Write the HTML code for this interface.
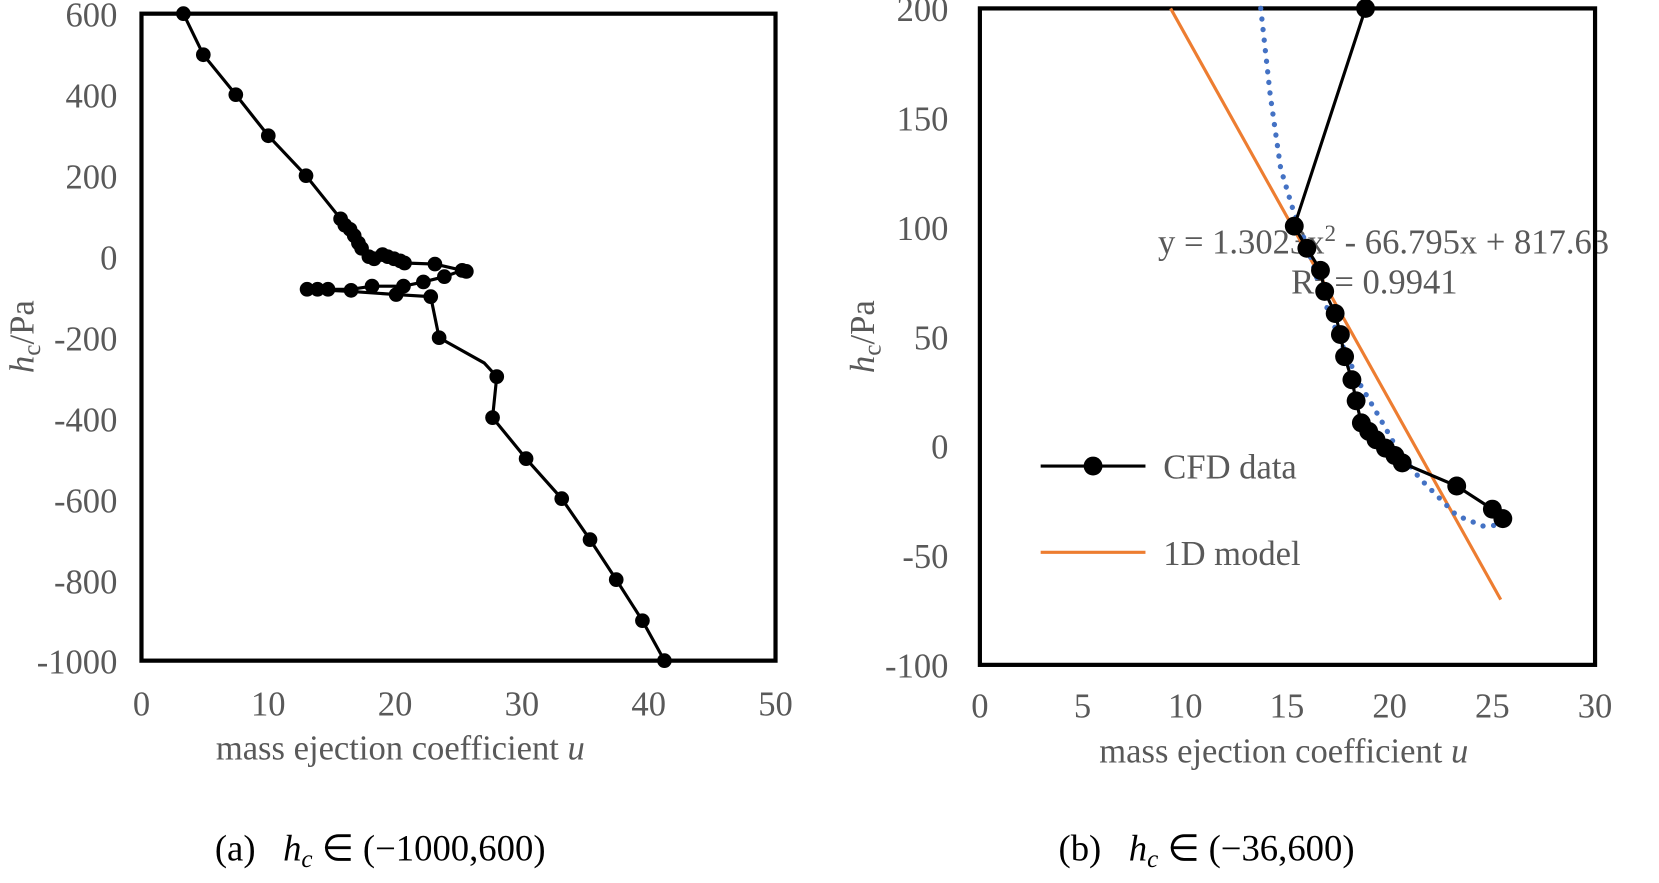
<!DOCTYPE html><html><head><style>body{margin:0;background:#fff}svg{display:block}text{font-family:"Liberation Serif",serif}</style></head><body>
<svg width="1659" height="883" viewBox="0 0 1659 883">
<g transform="scale(1.048,1.052)">
<g fill="#595959" font-size="33">
<g text-anchor="end">
<text x="112" y="25">600</text><text x="112" y="102">400</text><text x="112" y="179">200</text><text x="112" y="256">0</text><text x="112" y="333">-200</text><text x="112" y="410">-400</text><text x="112" y="487">-600</text><text x="112" y="564">-800</text><text x="112" y="640">-1000</text>
<text x="905" y="20">200</text><text x="905" y="124">150</text><text x="905" y="228">100</text><text x="905" y="332">50</text><text x="905" y="436">0</text><text x="905" y="540">-50</text><text x="905" y="644">-100</text>
</g>
<g text-anchor="middle">
<text x="135" y="680">0</text><text x="256" y="680">10</text><text x="377" y="680">20</text><text x="498" y="680">30</text><text x="619" y="680">40</text><text x="740" y="680">50</text>
<text x="935" y="682">0</text><text x="1033" y="682">5</text><text x="1131" y="682">10</text><text x="1228" y="682">15</text><text x="1326" y="682">20</text><text x="1424" y="682">25</text><text x="1522" y="682">30</text>
<text x="382" y="722">mass ejection coefficient <tspan font-style="italic">u</tspan></text>
<text x="1225" y="725">mass ejection coefficient <tspan font-style="italic">u</tspan></text>
</g>
<text transform="translate(32,320) rotate(-90)" text-anchor="middle"><tspan font-style="italic">h</tspan><tspan font-size="24" dy="6">c</tspan><tspan dy="-6">/Pa</tspan></text>
<text transform="translate(834,320) rotate(-90)" text-anchor="middle"><tspan font-style="italic">h</tspan><tspan font-size="24" dy="6">c</tspan><tspan dy="-6">/Pa</tspan></text>
<text x="1105" y="241">y = 1.3023x<tspan font-size="22" dy="-12">2</tspan><tspan dy="12"> - 66.795x + 817.63</tspan></text>
<text x="1232" y="279">R<tspan font-size="22" dy="-12">2</tspan><tspan dy="12"> = 0.9941</tspan></text>
<text x="1110" y="455">CFD data</text><text x="1110" y="537">1D model</text>
</g>
<rect x="135" y="13" width="605" height="615" fill="none" stroke="#000" stroke-width="4"/>
<rect x="935" y="8" width="587" height="624" fill="none" stroke="#000" stroke-width="4"/>
<polyline fill="none" stroke="#000" stroke-width="3" points="175,13 194,52 225,90 256,129 292,167 325,208 329,214 334,218 338,224 342,231 345,236 348,241 352,244 357,246 365,242 370,244 376,246 382,248 386,250 415,251 441,257 424,263 404,268 385,272 355,272 335,275 313,275 293,275 335,277 378,280 411,282 419,321 462,345 474,358 470,397 502,436 536,474 563,513 588,551 613,590 634,628"/>
<g fill="#000">
<circle cx="175" cy="13" r="7"/><circle cx="194" cy="52" r="7"/><circle cx="225" cy="90" r="7"/><circle cx="256" cy="129" r="7"/><circle cx="292" cy="167" r="7"/><circle cx="325" cy="208" r="7"/><circle cx="329" cy="214" r="7"/><circle cx="334" cy="218" r="7"/><circle cx="338" cy="224" r="7"/><circle cx="342" cy="231" r="7"/><circle cx="345" cy="236" r="7"/><circle cx="352" cy="244" r="7"/><circle cx="357" cy="246" r="7"/><circle cx="365" cy="242" r="7"/><circle cx="370" cy="244" r="7"/><circle cx="376" cy="246" r="7"/><circle cx="382" cy="248" r="7"/><circle cx="386" cy="250" r="7"/><circle cx="415" cy="251" r="7"/><circle cx="441" cy="257" r="7"/><circle cx="445" cy="258" r="7"/><circle cx="424" cy="263" r="7"/><circle cx="404" cy="268" r="7"/><circle cx="385" cy="272" r="7"/><circle cx="355" cy="272" r="7"/><circle cx="335" cy="276" r="7"/><circle cx="313" cy="275" r="7"/><circle cx="303" cy="275" r="7"/><circle cx="293" cy="275" r="7"/><circle cx="378" cy="280" r="7"/><circle cx="411" cy="282" r="7"/><circle cx="419" cy="321" r="7"/><circle cx="474" cy="358" r="7"/><circle cx="470" cy="397" r="7"/><circle cx="502" cy="436" r="7"/><circle cx="536" cy="474" r="7"/><circle cx="563" cy="513" r="7"/><circle cx="588" cy="551" r="7"/><circle cx="613" cy="590" r="7"/><circle cx="634" cy="628" r="7"/>
</g>
<line x1="1117" y1="8" x2="1432" y2="570" stroke="#ed7d31" stroke-width="3"/>
<polyline fill="none" stroke="#4472c4" stroke-width="5" stroke-dasharray="0.1 10" stroke-linecap="round" points="1203,8 1212,90 1222,160 1234,200 1248,236 1262,282 1279,324 1297,364 1317,398 1335,430 1355,455 1390,490 1415,500 1435,499"/>
<polyline fill="none" stroke="#000" stroke-width="3" points="1303,8 1235,215 1247,236 1260,257 1264,277 1274,298 1279,318 1283,339 1290,361 1294,381 1299,402 1306,410 1313,418 1322,426 1331,433 1338,440 1390,462 1424,484 1434,493"/>
<g fill="#000">
<circle cx="1303" cy="8" r="9"/><circle cx="1235" cy="215" r="9"/><circle cx="1247" cy="236" r="9"/><circle cx="1260" cy="257" r="9"/><circle cx="1264" cy="277" r="9"/><circle cx="1274" cy="298" r="9"/><circle cx="1279" cy="318" r="9"/><circle cx="1283" cy="339" r="9"/><circle cx="1290" cy="361" r="9"/><circle cx="1294" cy="381" r="9"/><circle cx="1299" cy="402" r="9"/><circle cx="1306" cy="410" r="9"/><circle cx="1313" cy="418" r="9"/><circle cx="1322" cy="426" r="9"/><circle cx="1331" cy="433" r="9"/><circle cx="1338" cy="440" r="9"/><circle cx="1390" cy="462" r="9"/><circle cx="1424" cy="484" r="9"/><circle cx="1434" cy="493" r="9"/>
<line x1="993" y1="443" x2="1093" y2="443" stroke="#000" stroke-width="3"/><circle cx="1043" cy="443" r="9"/>
</g>
<line x1="993" y1="525" x2="1093" y2="525" stroke="#ed7d31" stroke-width="3"/>
<g font-size="35" fill="#000">
<text x="205" y="818">(a)&#160;&#160;&#160;<tspan font-style="italic">h</tspan><tspan font-style="italic" font-size="24" dy="6">c</tspan><tspan dy="-6"> ∈ (−1000,600)</tspan></text>
<text x="1010" y="818">(b)&#160;&#160;&#160;<tspan font-style="italic">h</tspan><tspan font-style="italic" font-size="24" dy="6">c</tspan><tspan dy="-6"> ∈ (−36,600)</tspan></text>
</g>
</g>
</svg></body></html>
